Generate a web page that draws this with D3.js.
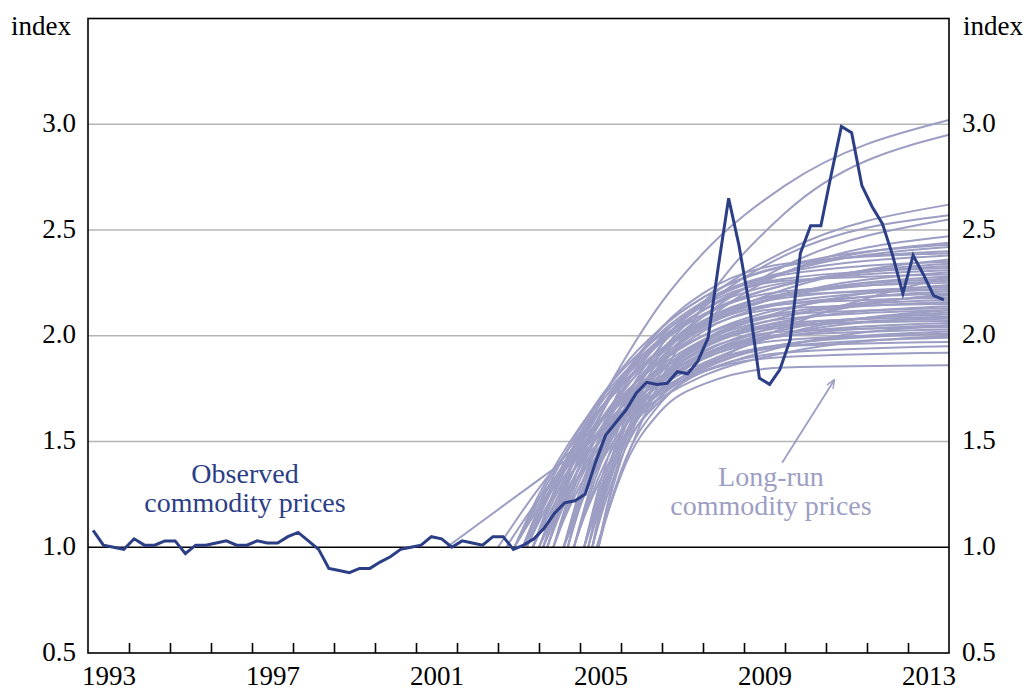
<!DOCTYPE html>
<html>
<head>
<meta charset="utf-8">
<script src="https://cdn.jsdelivr.net/npm/d3@7"></script>
<style>
  body { margin: 0; background: #fff; }
  svg text { font-family: "Liberation Serif", "Times New Roman", serif; }
</style>
</head>
<body>
<svg id="chart" width="1028" height="691"></svg>
<script>
// observed commodity price index, quarterly from 1993Q1 to 2013Q4
var obsStart = 1993;
var observed = [
  1.08, 1.01, 1.00, 0.99, 1.04, 1.01, 1.01, 1.03, 1.03, 0.97, 1.01, 1.01,
  1.02, 1.03, 1.01, 1.01, 1.03, 1.02, 1.02, 1.05, 1.07, 1.03, 0.99, 0.90,
  0.89, 0.88, 0.90, 0.90, 0.93, 0.955, 0.99, 1.00, 1.01, 1.05, 1.04, 1.00,
  1.03, 1.02, 1.01, 1.05, 1.05, 0.99, 1.01, 1.04, 1.09, 1.16, 1.21, 1.22,
  1.25, 1.40, 1.53, 1.59, 1.65, 1.73, 1.78, 1.77, 1.775, 1.83, 1.82, 1.88,
  1.99, 2.33, 2.65, 2.43, 2.15, 1.80, 1.77, 1.84, 1.98, 2.39, 2.52, 2.52,
  2.76, 2.99, 2.96, 2.71, 2.61, 2.53, 2.38, 2.20, 2.38, 2.29, 2.19, 2.17
];

// long-run paths: each leaves 1.0 at its start year, then passes the grid values
var lrGrid = [2004, 2004.5, 2005, 2005.5, 2006, 2007, 2008, 2010, 2014];
var lrStart = [
  2004.0, 2005.4, 2001.75, 2003.0, 2003.2, 2004.0, 2004.6, 2004.0, 2004.6,
  2003.4, 2003.4, 2003.4, 2003.4, 2003.6, 2003.6, 2003.6, 2003.6,
  2003.85, 2003.85, 2003.85, 2003.85, 2004.1, 2004.1, 2004.1, 2004.1,
  2004.35, 2004.35, 2004.35, 2004.35, 2004.6, 2004.6, 2004.6, 2004.6,
  2004.85, 2004.85, 2004.85, 2004.85, 2005.1, 2005.1, 2005.1, 2005.1,
  2005.3, 2005.3, 2005.3, 2005.3, 2005.45, 2005.45, 2005.45, 2005.45,
  2003.7, 2003.7, 2003.7, 2004.2, 2004.2, 2004.2,
  2004.7, 2004.7, 2004.7, 2005.2, 2005.2, 2005.2
];
var lrValues = [
  [null, 1.26, 1.49, 1.69, 1.86, 2.16, 2.39, 2.71, 3.02],
  [null, null, null, 1.06, 1.35, 1.80, 2.14, 2.58, 2.95],
  [1.32, 1.39, 1.46, 1.53, 1.60, 1.73, 1.85, 2.04, 2.28],
  [1.28, 1.40, 1.50, 1.60, 1.68, 1.81, 1.91, 2.06, 2.20],
  [1.23, 1.35, 1.46, 1.54, 1.62, 1.74, 1.83, 1.95, 2.05],
  [null, 1.23, 1.42, 1.59, 1.74, 1.98, 2.16, 2.40, 2.62],
  [null, null, 1.21, 1.44, 1.63, 1.93, 2.13, 2.38, 2.57],
  [null, 1.20, 1.38, 1.55, 1.69, 1.92, 2.09, 2.33, 2.55],
  [null, null, 1.20, 1.41, 1.59, 1.87, 2.06, 2.30, 2.47],
  [1.25, 1.42, 1.57, 1.70, 1.81, 1.99, 2.12, 2.30, 2.44],
  [1.23, 1.40, 1.54, 1.66, 1.77, 1.94, 2.06, 2.22, 2.36],
  [1.21, 1.36, 1.49, 1.60, 1.70, 1.85, 1.97, 2.12, 2.24],
  [1.19, 1.33, 1.45, 1.55, 1.63, 1.77, 1.87, 2.01, 2.12],
  [1.19, 1.39, 1.56, 1.71, 1.83, 2.01, 2.15, 2.30, 2.42],
  [1.17, 1.36, 1.52, 1.65, 1.76, 1.93, 2.05, 2.19, 2.30],
  [1.16, 1.33, 1.47, 1.59, 1.69, 1.85, 1.96, 2.09, 2.19],
  [1.13, 1.28, 1.40, 1.50, 1.58, 1.71, 1.81, 1.92, 2.00],
  [1.08, 1.33, 1.54, 1.70, 1.84, 2.04, 2.18, 2.33, 2.43],
  [1.08, 1.31, 1.50, 1.65, 1.78, 1.97, 2.10, 2.24, 2.33],
  [1.07, 1.28, 1.45, 1.59, 1.71, 1.88, 2.00, 2.13, 2.21],
  [1.06, 1.25, 1.41, 1.54, 1.64, 1.79, 1.90, 2.01, 2.09],
  [null, 1.23, 1.47, 1.65, 1.80, 2.02, 2.16, 2.30, 2.38],
  [null, 1.21, 1.42, 1.60, 1.73, 1.93, 2.05, 2.19, 2.26],
  [null, 1.19, 1.38, 1.54, 1.66, 1.84, 1.95, 2.07, 2.14],
  [null, 1.17, 1.34, 1.48, 1.59, 1.75, 1.85, 1.96, 2.02],
  [null, 1.10, 1.39, 1.62, 1.79, 2.04, 2.18, 2.33, 2.40],
  [null, 1.09, 1.35, 1.56, 1.72, 1.94, 2.07, 2.20, 2.27],
  [null, 1.08, 1.32, 1.51, 1.66, 1.86, 1.98, 2.10, 2.16],
  [null, 1.08, 1.29, 1.46, 1.59, 1.78, 1.89, 2.00, 2.05],
  [null, null, 1.27, 1.53, 1.73, 2.00, 2.15, 2.29, 2.35],
  [null, null, 1.24, 1.48, 1.66, 1.90, 2.04, 2.16, 2.22],
  [null, null, 1.22, 1.43, 1.59, 1.81, 1.94, 2.05, 2.10],
  [null, null, 1.20, 1.40, 1.55, 1.74, 1.86, 1.96, 2.01],
  [null, null, 1.11, 1.43, 1.66, 1.96, 2.12, 2.27, 2.32],
  [null, null, 1.10, 1.39, 1.60, 1.87, 2.02, 2.15, 2.20],
  [null, null, 1.09, 1.35, 1.54, 1.79, 1.92, 2.04, 2.08],
  [null, null, 1.09, 1.32, 1.50, 1.72, 1.84, 1.95, 1.99],
  [null, null, null, 1.31, 1.59, 1.92, 2.09, 2.21, 2.25],
  [null, null, null, 1.28, 1.53, 1.83, 1.98, 2.10, 2.13],
  [null, null, null, 1.25, 1.48, 1.76, 1.90, 2.00, 2.03],
  [null, null, null, 1.23, 1.45, 1.70, 1.83, 1.92, 1.95],
  [null, null, null, 1.19, 1.55, 1.96, 2.14, 2.26, 2.29],
  [null, null, null, 1.17, 1.51, 1.88, 2.05, 2.15, 2.18],
  [null, null, null, 1.16, 1.46, 1.80, 1.95, 2.05, 2.07],
  [null, null, null, 1.14, 1.42, 1.72, 1.86, 1.95, 1.97],
  [null, null, null, 1.05, 1.45, 1.86, 2.03, 2.13, 2.15],
  [null, null, null, 1.05, 1.41, 1.78, 1.93, 2.02, 2.04],
  [null, null, null, 1.04, 1.36, 1.69, 1.83, 1.90, 1.92],
  [null, null, null, 1.04, 1.34, 1.65, 1.77, 1.85, 1.86],
  [1.14, 1.34, 1.51, 1.65, 1.76, 1.93, 2.05, 2.19, 2.28],
  [1.12, 1.30, 1.44, 1.56, 1.66, 1.81, 1.91, 2.03, 2.11],
  [1.15, 1.36, 1.53, 1.68, 1.80, 1.98, 2.10, 2.24, 2.34],
  [null, 1.18, 1.44, 1.63, 1.78, 1.99, 2.12, 2.25, 2.31],
  [null, 1.16, 1.39, 1.56, 1.70, 1.89, 2.00, 2.11, 2.17],
  [null, 1.15, 1.35, 1.51, 1.63, 1.80, 1.91, 2.01, 2.06],
  [null, null, 1.20, 1.47, 1.67, 1.92, 2.06, 2.18, 2.23],
  [null, null, 1.19, 1.43, 1.61, 1.84, 1.97, 2.08, 2.12],
  [null, null, 1.23, 1.53, 1.76, 2.04, 2.20, 2.34, 2.39],
  [null, null, null, 1.25, 1.55, 1.90, 2.07, 2.19, 2.22],
  [null, null, null, 1.22, 1.49, 1.81, 1.96, 2.06, 2.09],
  [null, null, null, 1.20, 1.46, 1.75, 1.89, 1.98, 2.01]
];

var yTicks = [0.5, 1.0, 1.5, 2.0, 2.5, 3.0];
var gridLevels = [1.5, 2.0, 2.5, 3.0];
var yearLabels = [1993, 1997, 2001, 2005, 2009, 2013];
var arrowFrom = [2009.93, 1.40], arrowTo = [2011.2, 1.79];

var navy = "#2b3e86", lilac = "#9d9ec3";

var svg = d3.select("#chart"),
    plot = {left: 88, right: 949, top: 18.5, bottom: 653};

var x = d3.scaleLinear().domain([1993, 2014]).range([plot.left, plot.right]);
var y = d3.scaleLinear().domain([0.5, 3.5]).range([plot.bottom, plot.top]);

// horizontal grid
svg.append("g")
    .selectAll("line")
    .data(gridLevels)
    .enter().append("line")
    .attr("x1", plot.left).attr("x2", plot.right)
    .attr("y1", function (d) { return y(d); })
    .attr("y2", function (d) { return y(d); })
    .attr("stroke", "#b5b5b5")
    .attr("stroke-width", 1.5);

// long-run paths
var lrLine = d3.line()
    .x(function (d) { return x(d[0]); })
    .y(function (d) { return y(d[1]); })
    .curve(d3.curveMonotoneX);

var lrPaths = lrValues.map(function (vals, i) {
    var pts = [[lrStart[i], 1.0]];
    lrGrid.forEach(function (g, j) {
        if (vals[j] != null && g > lrStart[i]) pts.push([g, vals[j]]);
    });
    return pts;
});

svg.append("g")
    .selectAll("path")
    .data(lrPaths)
    .enter().append("path")
    .attr("d", lrLine)
    .attr("fill", "none")
    .attr("stroke", lilac)
    .attr("stroke-width", 2);

// 1.0 reference line
svg.append("line")
    .attr("x1", plot.left).attr("x2", plot.right)
    .attr("y1", y(1)).attr("y2", y(1))
    .attr("stroke", "#000")
    .attr("stroke-width", 1.6);

// observed series
var obsLine = d3.line()
    .x(function (d, i) { return x(obsStart + (i + 0.5) / 4); })
    .y(function (d) { return y(d); });

svg.append("path")
    .datum(observed)
    .attr("d", obsLine)
    .attr("fill", "none")
    .attr("stroke", navy)
    .attr("stroke-width", 3)
    .attr("stroke-linejoin", "miter");

// frame
svg.append("rect")
    .attr("x", plot.left).attr("y", plot.top)
    .attr("width", plot.right - plot.left)
    .attr("height", plot.bottom - plot.top)
    .attr("fill", "none")
    .attr("stroke", "#000")
    .attr("stroke-width", 1.6);

// inner year ticks
svg.append("g")
    .attr("transform", "translate(0," + plot.bottom + ")")
    .call(d3.axisBottom(x).tickValues(d3.range(1994, 2014)).tickSize(-10).tickFormat(""))
    .call(function (g) { g.select(".domain").remove(); })
    .selectAll("line").attr("stroke", "#000").attr("stroke-width", 1.6);

// year labels, centred on each year
svg.append("g")
    .attr("transform", "translate(0," + plot.bottom + ")")
    .call(d3.axisBottom(x).tickValues(yearLabels.map(function (d) { return d + 0.5; }))
        .tickSize(0).tickFormat(function (d) { return Math.floor(d); }))
    .call(function (g) { g.select(".domain").remove(); })
    .selectAll("text")
    .attr("y", 31.5).attr("dy", 0)
    .attr("font-size", 27).attr("fill", "#000");

// value labels on both sides
svg.append("g")
    .attr("transform", "translate(" + plot.left + ",0)")
    .call(d3.axisLeft(y).tickValues(yTicks).tickSize(0).tickPadding(12).tickFormat(d3.format(".1f")))
    .call(function (g) { g.select(".domain").remove(); })
    .selectAll("text")
    .attr("dy", 7).attr("font-size", 27).attr("fill", "#000");

svg.append("g")
    .attr("transform", "translate(" + plot.right + ",0)")
    .call(d3.axisRight(y).tickValues(yTicks).tickSize(0).tickPadding(13).tickFormat(d3.format(".1f")))
    .call(function (g) { g.select(".domain").remove(); })
    .selectAll("text")
    .attr("dy", 7).attr("font-size", 27).attr("fill", "#000");

svg.append("text").attr("x", 11).attr("y", 35).attr("font-size", 27).text("index");
svg.append("text").attr("x", 963).attr("y", 35).attr("font-size", 27).text("index");

// annotations
var obsNote = svg.append("text")
    .attr("text-anchor", "middle").attr("font-size", 28).attr("fill", navy);
obsNote.append("tspan").attr("x", 245).attr("y", 483).text("Observed");
obsNote.append("tspan").attr("x", 245).attr("y", 512).text("commodity prices");

var lrNote = svg.append("text")
    .attr("text-anchor", "middle").attr("font-size", 28).attr("fill", lilac);
lrNote.append("tspan").attr("x", 771).attr("y", 486).text("Long-run");
lrNote.append("tspan").attr("x", 771).attr("y", 515).text("commodity prices");

svg.append("defs").append("marker")
    .attr("id", "head")
    .attr("viewBox", "0 0 10 10")
    .attr("refX", 9).attr("refY", 5)
    .attr("markerWidth", 5).attr("markerHeight", 5)
    .attr("orient", "auto")
    .append("path")
    .attr("d", "M0,1L10,5L0,9")
    .attr("fill", "none")
    .attr("stroke", lilac)
    .attr("stroke-width", 1.5);

svg.append("line")
    .attr("x1", x(arrowFrom[0])).attr("y1", y(arrowFrom[1]))
    .attr("x2", x(arrowTo[0])).attr("y2", y(arrowTo[1]))
    .attr("stroke", lilac)
    .attr("stroke-width", 1.8)
    .attr("marker-end", "url(#head)");
</script>
</body>
</html>
